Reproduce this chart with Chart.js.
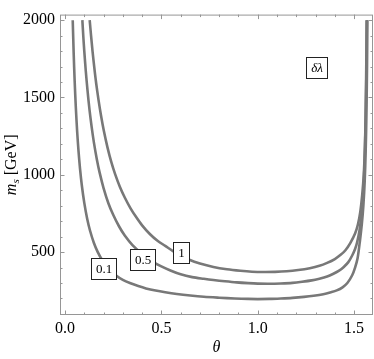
<!DOCTYPE html>
<html><head><meta charset="utf-8">
<script src="https://cdn.jsdelivr.net/npm/chart.js@4.4.0/dist/chart.umd.min.js"></script>
<style>html,body{margin:0;padding:0;background:#fff;}#wrap{width:374px;height:359px;}</style>
</head><body><div id="wrap"><canvas id="c" width="374" height="359"></canvas></div>
<script>
// contour delta-lambda = 0.1
const theta01 = [0.040,0.045,0.050,0.056,0.063,0.070,0.078,0.087,0.100,0.115,0.130,0.150,0.170,0.195,0.225,0.265,0.30,0.34,0.38,0.42,0.47,0.52,0.58,0.65,0.72,0.80,0.88,0.95,1.00,1.06,1.12,1.18,1.24,1.29,1.34,1.38,1.41,1.44,1.465,1.49,1.505,1.518,1.530,1.540,1.548,1.555,1.560,1.564,1.567,1.569];
const ms01    = [2000,1785,1608,1438,1280,1154,1038,934,818,716,638,559,500,444,394,348,320,298,280,265,251,240,229,219,211,205,200,197,196,197,200,204,210,217,227,240,252,272,300,350,400,460,570,680,800,960,1150,1400,1700,2000];
// contour delta-lambda = 0.5
const theta05 = [0.090,0.095,0.100,0.108,0.117,0.127,0.138,0.150,0.165,0.180,0.200,0.225,0.25,0.28,0.31,0.35,0.40,0.45,0.50,0.55,0.60,0.66,0.72,0.77,0.83,0.89,0.95,1.00,1.06,1.12,1.18,1.23,1.28,1.32,1.36,1.39,1.42,1.445,1.47,1.49,1.505,1.515,1.528,1.538,1.546,1.552,1.557,1.561,1.564,1.566];
const ms05    = [2000,1893,1800,1668,1542,1422,1311,1208,1101,1012,914,816,741,667,607,545,488,442,407,379,356,338,327,319,311,304,299,296,295,297,301,308,317,328,342,358,378,402,435,478,520,560,640,740,860,1000,1200,1450,1700,2000];
// contour delta-lambda = 1
const theta1 = [0.128,0.135,0.143,0.152,0.162,0.174,0.187,0.202,0.22,0.24,0.26,0.285,0.31,0.34,0.37,0.40,0.44,0.48,0.52,0.562,0.60,0.645,0.70,0.77,0.84,0.91,0.97,1.03,1.09,1.15,1.21,1.27,1.32,1.36,1.40,1.43,1.455,1.48,1.505,1.52,1.532,1.542,1.55,1.556,1.56,1.563,1.565];
const ms1    = [2000,1902,1797,1693,1589,1483,1382,1281,1179,1083,1004,921,853,783,725,673,617,573,540,505,478,450,426,404,389,379,373,371,372,376,384,396,411,430,455,482,512,558,620,680,760,870,1000,1180,1400,1700,2000];

const xTickValues = [0, 0.5, 1.0, 1.5];
const yTickValues = [500, 1000, 1500, 2000];
const contourLabels = ['0.1', '0.5', '1'];
const contourLabelTheta = [0.202, 0.402, 0.602];
const contourLabelMs = [396, 449, 498];
const keyLabel = 'δλ';
const keyTheta = 1.303;
const keyMs = 1694;

const SERIF = '"Liberation Serif", "Times New Roman", serif';
const curveColor = 'rgb(120,120,120)';
const frameColor = 'rgb(150,150,150)';

function pts(xs, ys) { return xs.map((x, i) => ({x: x, y: ys[i]})); }
function ds(xs, ys) {
  return { data: pts(xs, ys), showLine: true, borderColor: curveColor, borderWidth: 2.6,
           pointRadius: 0, tension: 0.3, fill: false };
}

const decor = {
  id: 'decor',
  afterDraw(chart) {
    const ctx = chart.ctx, ca = chart.chartArea;
    const xs = chart.scales.x, ys = chart.scales.y;
    ctx.save();
    ctx.strokeStyle = frameColor; ctx.lineWidth = 1;
    ctx.strokeRect(ca.left + 0.5, ca.top + 0.5, ca.right - ca.left - 1, ca.bottom - ca.top - 1);
    ctx.beginPath();
    for (let i = 0; i <= 15; i++) {
      const v = i / 10;
      const major = (i % 5 === 0);
      const L = major ? 4.5 : 2.5;
      const px = Math.round(xs.getPixelForValue(v)) + 0.5;
      ctx.moveTo(px, ca.bottom); ctx.lineTo(px, ca.bottom - L);
      ctx.moveTo(px, ca.top); ctx.lineTo(px, ca.top + L);
    }
    for (let i = 1; i <= 20; i++) {
      const v = i * 100;
      const major = (v % 500 === 0);
      const L = major ? 4.5 : 2.5;
      const py = Math.round(ys.getPixelForValue(v)) + 0.5;
      ctx.moveTo(ca.left, py); ctx.lineTo(ca.left + L, py);
      ctx.moveTo(ca.right, py); ctx.lineTo(ca.right - L, py);
    }
    ctx.stroke();

    function box(text, x, y, font) {
      ctx.font = font;
      const w = ctx.measureText(text).width;
      const bw = Math.round(w + 9), bh = 21;
      const bx = Math.round(x - bw / 2) + 0.5, by = Math.round(y - bh / 2) + 0.5;
      ctx.fillStyle = '#fff';
      ctx.fillRect(bx, by, bw, bh);
      ctx.strokeStyle = '#222'; ctx.lineWidth = 1;
      ctx.strokeRect(bx, by, bw, bh);
      ctx.fillStyle = '#000';
      ctx.textAlign = 'center'; ctx.textBaseline = 'middle';
      ctx.fillText(text, bx + bw / 2, by + bh / 2 + 1);
    }
    for (let i = 0; i < contourLabels.length; i++) {
      box(contourLabels[i], xs.getPixelForValue(contourLabelTheta[i]), ys.getPixelForValue(contourLabelMs[i]), '13px ' + SERIF);
    }
    box(keyLabel, xs.getPixelForValue(keyTheta), ys.getPixelForValue(keyMs), 'italic 13px ' + SERIF);

    ctx.fillStyle = '#000';
    ctx.font = 'italic 16px ' + SERIF;
    ctx.textAlign = 'center'; ctx.textBaseline = 'middle';
    ctx.fillText('θ', (ca.left + ca.right) / 2, 348);

    ctx.save();
    ctx.translate(11, (ca.top + ca.bottom) / 2);
    ctx.rotate(-Math.PI / 2);
    const f1 = 'italic 16px ' + SERIF, f2 = 'italic 11px ' + SERIF, f3 = '16px ' + SERIF;
    ctx.font = f1; const w1 = ctx.measureText('m').width;
    ctx.font = f2; const w2 = ctx.measureText('s').width;
    ctx.font = f3; const w3 = ctx.measureText(' [GeV]').width;
    let sx = -(w1 + w2 + w3) / 2;
    ctx.textAlign = 'left'; ctx.textBaseline = 'alphabetic';
    const base = 5;
    ctx.font = f1; ctx.fillText('m', sx, base); sx += w1;
    ctx.font = f2; ctx.fillText('s', sx, base + 3); sx += w2;
    ctx.font = f3; ctx.fillText(' [GeV]', sx, base);
    ctx.restore();
    ctx.restore();
  }
};

new Chart(document.getElementById('c'), {
  type: 'scatter',
  data: { datasets: [ds(theta01, ms01), ds(theta05, ms05), ds(theta1, ms1)] },
  options: {
    responsive: false, animation: false, devicePixelRatio: 1,
    layout: { padding: { top: 2, right: 1, left: 0, bottom: 0 } },
    plugins: { legend: { display: false }, tooltip: { enabled: false } },
    scales: {
      x: {
        type: 'linear', min: -0.026, max: 1.598,
        afterBuildTicks: s => { s.ticks = xTickValues.map(v => ({ value: v })); },
        afterFit: s => { s.height = 44; },
        grid: { display: false, drawTicks: false }, border: { display: false },
        ticks: { callback: v => Number(v).toFixed(1), color: '#000', padding: 4, maxRotation: 0, autoSkip: false,
                 font: { family: SERIF, size: 16 } }
      },
      y: {
        type: 'linear', min: 93, max: 2036,
        afterBuildTicks: s => { s.ticks = yTickValues.map(v => ({ value: v })); },
        afterFit: s => { s.width = 60; },
        grid: { display: false, drawTicks: false }, border: { display: false },
        ticks: { callback: v => String(v), color: '#000', padding: 5, autoSkip: false,
                 font: { family: SERIF, size: 16 } }
      }
    }
  },
  plugins: [decor]
});
</script></body></html>
